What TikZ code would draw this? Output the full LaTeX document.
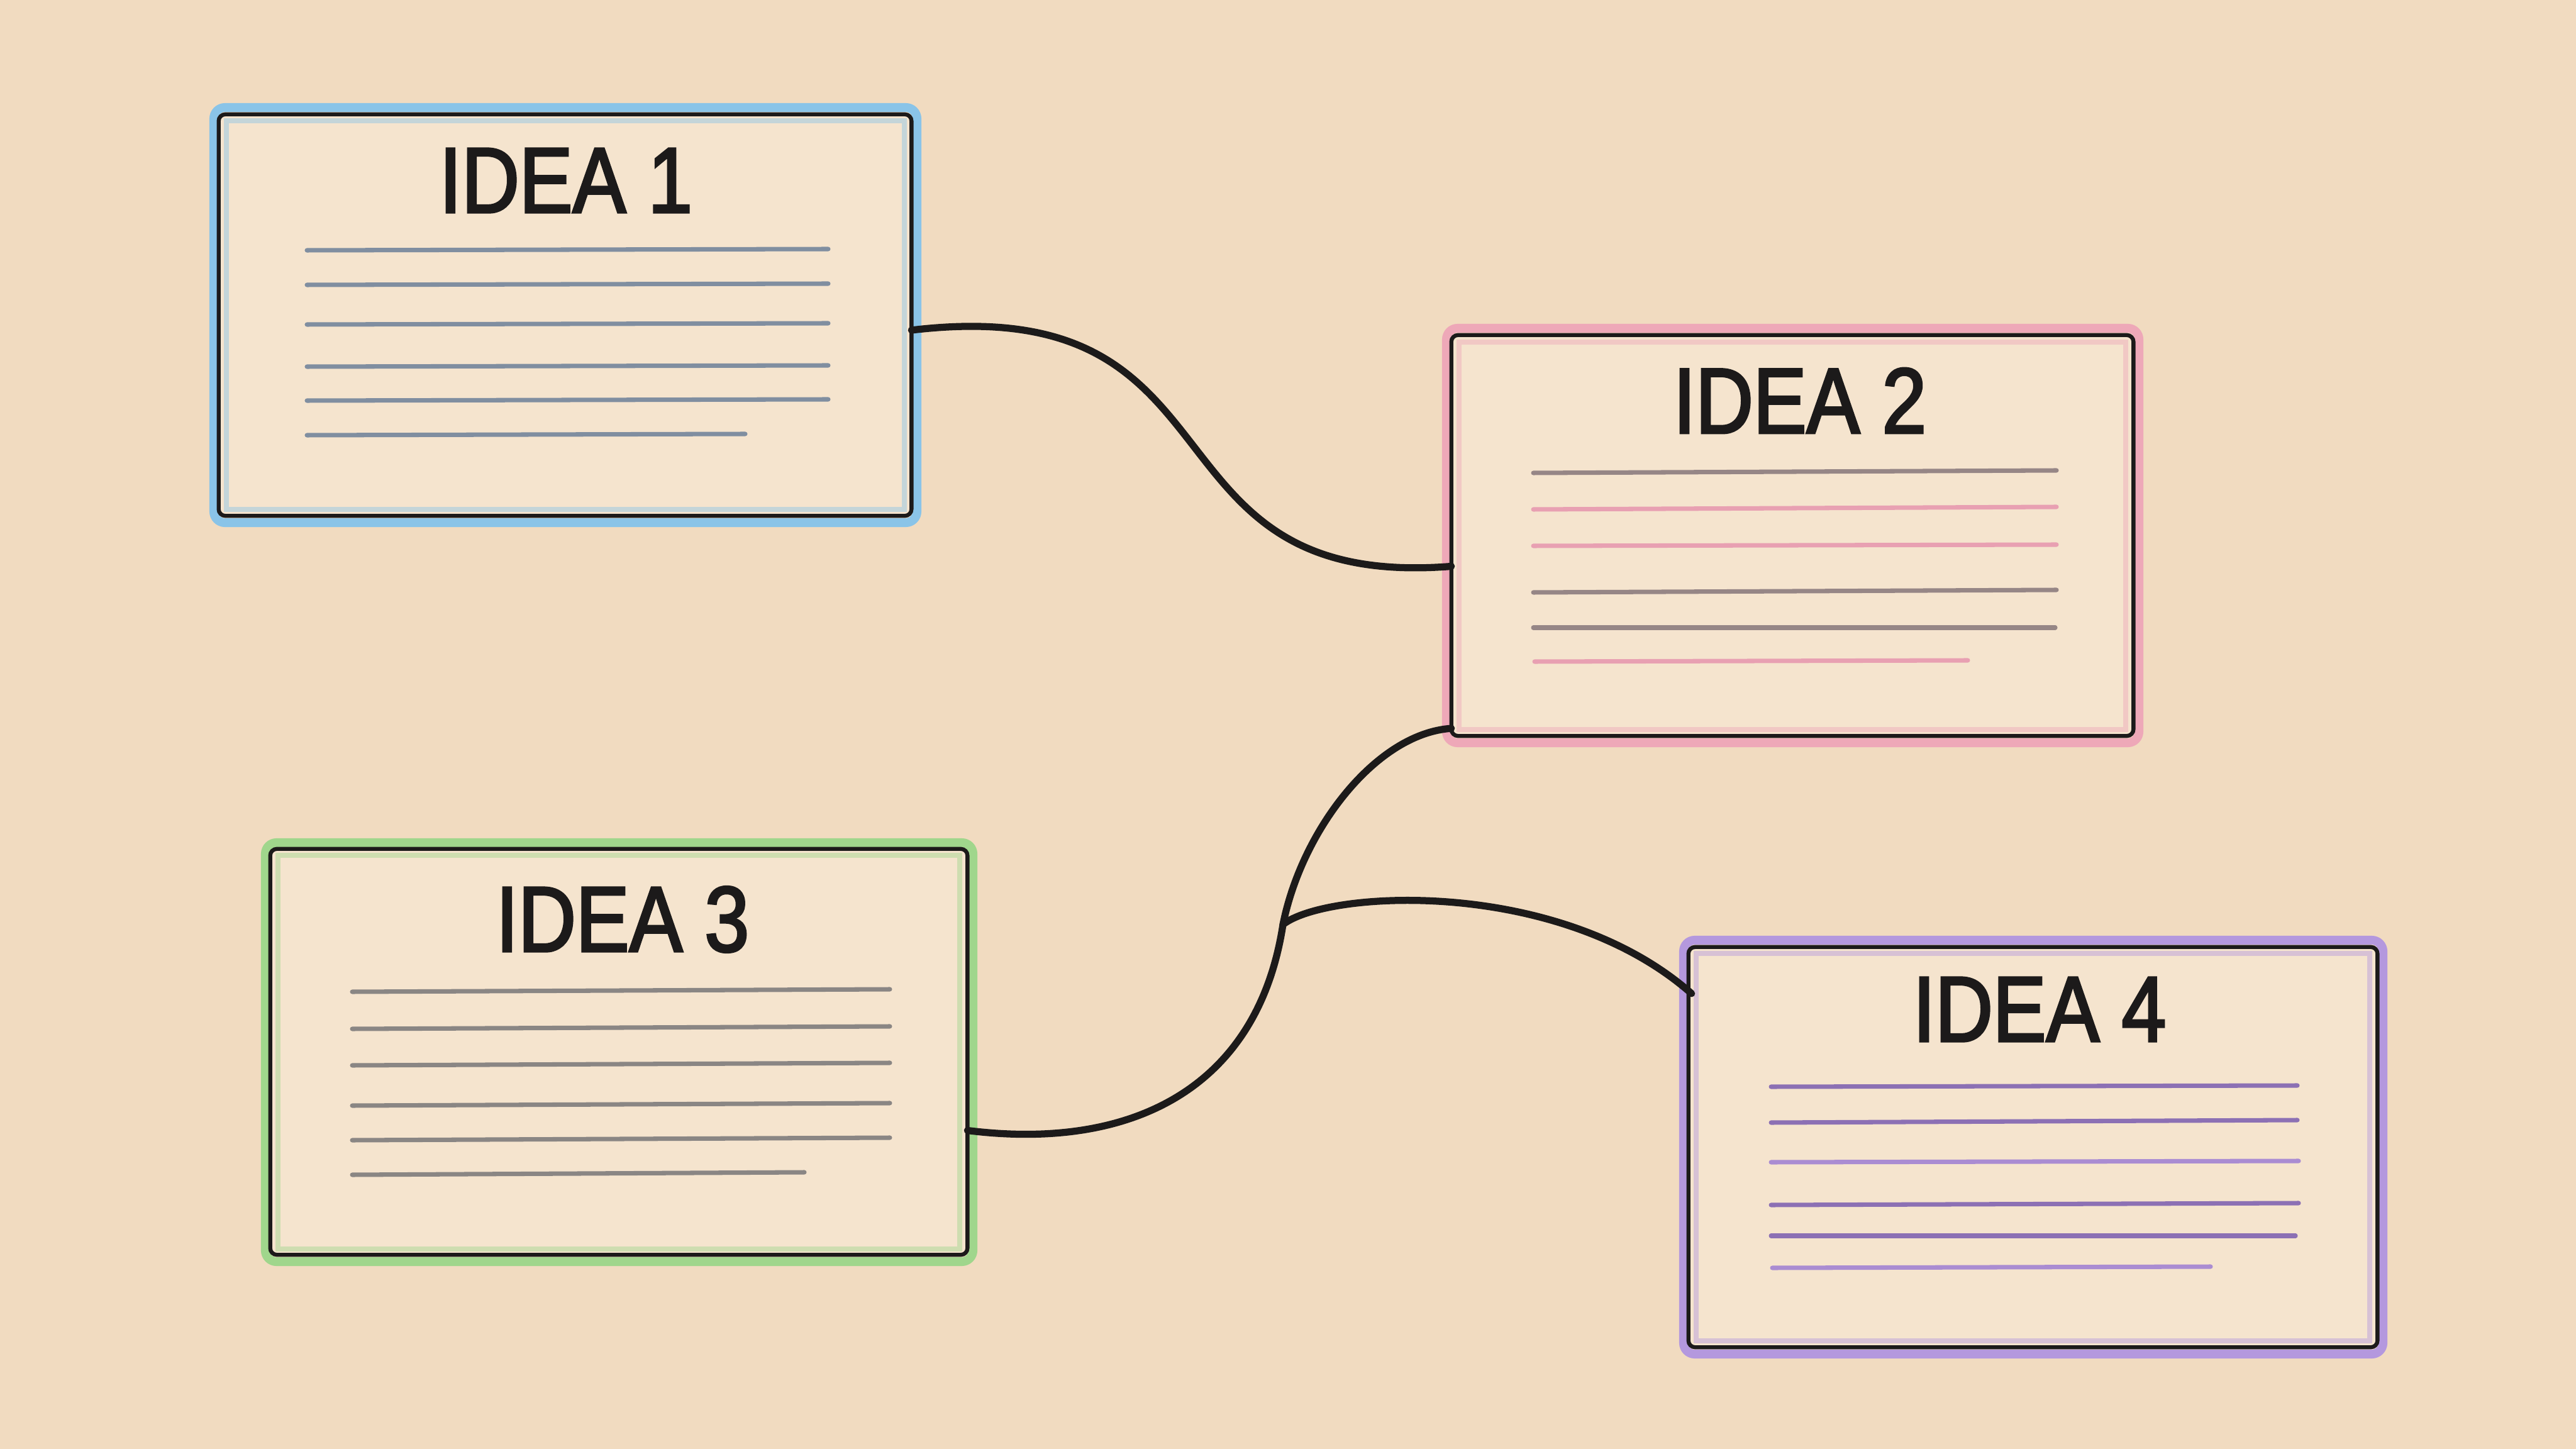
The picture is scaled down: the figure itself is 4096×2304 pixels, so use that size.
\documentclass[tikz,border=0pt]{standalone}
\usepackage{fontspec}
\newfontfamily\handfont[FakeStretch=0.86,FakeBold=2.5]{Liberation Sans}
\usetikzlibrary{calc}
\definecolor{paper}{RGB}{241,219,192}
\definecolor{card}{RGB}{245,228,206}
\definecolor{ink}{RGB}{28,26,26}
\definecolor{cblue}{RGB}{138,196,232}
\definecolor{cpink}{RGB}{238,168,184}
\definecolor{cgreen}{RGB}{160,214,140}
\definecolor{cpurple}{RGB}{180,152,222}
\definecolor{lblue}{RGB}{128,142,160}
\definecolor{lgray}{RGB}{138,134,132}
\definecolor{lpink}{RGB}{232,160,178}
\definecolor{lpgray}{RGB}{150,134,134}
\definecolor{lpurple}{RGB}{140,112,180}
\definecolor{lpurplelt}{RGB}{170,140,210}
\tikzset{
  cardbox/.style={draw=ink, line width=1.8pt, inner sep=0pt, outer sep=0pt, rounded corners=3pt},
  frame/.style={line width=4pt, rounded corners=5pt},
  innerframe/.style={line width=2.4pt, opacity=0.45},
  textline/.style={line width=2pt, line cap=round},
  title/.style={font=\handfont\fontsize{42}{42}\selectfont, text=ink, inner sep=0pt, anchor=center},
  connector/.style={draw=ink, line width=3.2pt, line cap=round}
}
\begin{document}
\begin{tikzpicture}[x=0.01cm,y=-0.01cm]
\useasboundingbox (0,0) rectangle (4096,2304);
\fill[paper] (0,0) rectangle (4096,2304);

% ---------- card fills and coloured frames ----------
\fill[card] (348,182) rectangle (1449,820);
\draw[frame, cblue] (340,171) rectangle (1458,831);
\draw[innerframe, cblue] (360,192) rectangle (1438,810);

\fill[card] (2308,533) rectangle (3392,1170);
\draw[frame, cpink] (2300,522) rectangle (3401,1181);
\draw[innerframe, cpink] (2320,544) rectangle (3380,1160);

\fill[card] (430,1350) rectangle (1538,1995);
\draw[frame, cgreen] (422,1340) rectangle (1547,2006);
\draw[innerframe, cgreen] (442,1360) rectangle (1526,1986);

\fill[card] (2685,1506) rectangle (3780,2142);
\draw[frame, cpurple] (2677,1495) rectangle (3789,2153);
\draw[innerframe, cpurple] (2697,1516) rectangle (3768,2132);

% ---------- card nodes (black outline) ----------
\node[cardbox, minimum width=11.01cm, minimum height=6.38cm] (b1) at (898.5,501) {};
\node[cardbox, minimum width=10.84cm, minimum height=6.37cm] (b2) at (2850,851.5) {};
\node[cardbox, minimum width=11.08cm, minimum height=6.45cm] (b3) at (984,1672.5) {};
\node[cardbox, minimum width=10.95cm, minimum height=6.36cm] (b4) at (3232.5,1824) {};

% ---------- titles ----------
\node[title] (t1) at (900,287) {IDEA 1};
\node[title] (t2) at (2862,637) {IDEA 2};
\node[title] (t3) at (990,1462) {IDEA 3};
\node[title] (t4) at (3243,1605) {IDEA 4};

% ---------- ruled lines ----------
\foreach \y/\e in {398/1317,453/1317,516/1317,583/1317,637/1317,692/1185}
  \draw[textline, lblue] (488,\y) -- (\e,\y-2);
\draw[textline, lpgray] (2438,752) -- (3270,748);
\draw[textline, lpink]  (2438,810) -- (3270,806);
\draw[textline, lpink]  (2438,868) -- (3270,866);
\draw[textline, lpgray] (2438,942) -- (3270,938);
\draw[textline, lpgray] (2438,998) -- (3268,998);
\draw[textline, lpink]  (2440,1052) -- (3129,1050);
\foreach \y/\e in {1577/1415,1636/1415,1694/1415,1758/1415,1813/1415,1868/1279}
  \draw[textline, lgray] (560,\y) -- (\e,\y-4);
\draw[textline, lpurple]   (2816,1728) -- (3653,1726);
\draw[textline, lpurple]   (2816,1785) -- (3653,1781);
\draw[textline, lpurplelt] (2816,1848) -- (3655,1846);
\draw[textline, lpurple]   (2816,1916) -- (3655,1913);
\draw[textline, lpurple]   (2816,1965) -- (3650,1965);
\draw[textline, lpurplelt] (2818,2016) -- (3515,2014);

% ---------- connectors ----------
\coordinate (j) at (2040,1470);
\draw[connector] ($(b1.east)+(0,24)$) .. controls +(545,-65) and +(-506,40) .. ($(b2.west)+(0,49)$);
\draw[connector] ($(b3.east)+(0,125)$) .. controls +(262,33) and +(-40,260) .. (j)
                 .. controls +(30,-150) and +(-120,8) .. ($(b2.south west)+(0,-12)$);
\draw[connector] (j) .. controls +(70,-55) and +(-210,-185) .. ($(b4.north west)+(5,74)$);
\end{tikzpicture}
\end{document}
